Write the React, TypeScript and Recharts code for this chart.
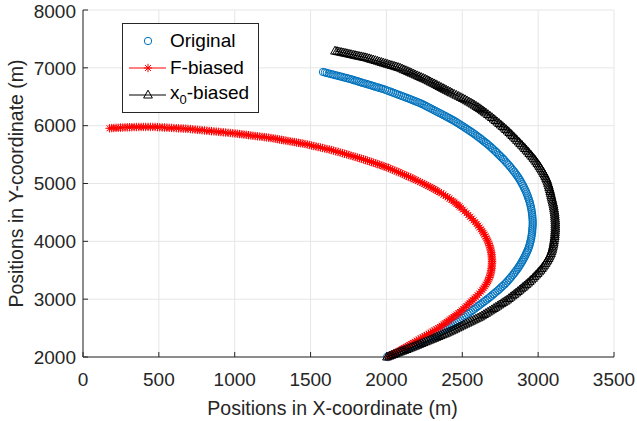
import { ScatterChart, Scatter, XAxis, YAxis, CartesianGrid, Legend } from 'recharts';

const X_TICKS = [0, 500, 1000, 1500, 2000, 2500, 3000, 3500];
const Y_TICKS = [2000, 3000, 4000, 5000, 6000, 7000, 8000];

// trajectories as [x, y] positions in metres
const ORIGINAL: [number, number][] = [
  [2004, 2000], [2017, 2015], [2030, 2030], [2043, 2046], [2056, 2061], [2070, 2076], [2083, 2091], [2096, 2106],
  [2109, 2121], [2123, 2139], [2137, 2156], [2151, 2173], [2165, 2190], [2179, 2208], [2193, 2225], [2207, 2242],
  [2221, 2259], [2235, 2277], [2249, 2294], [2263, 2311], [2277, 2328], [2291, 2346], [2305, 2363], [2319, 2381],
  [2333, 2398], [2345, 2417], [2357, 2436], [2369, 2455], [2381, 2474], [2393, 2493], [2404, 2512], [2416, 2531],
  [2428, 2550], [2440, 2569], [2452, 2588], [2464, 2611], [2476, 2633], [2488, 2656], [2500, 2678], [2512, 2701],
  [2523, 2723], [2535, 2746], [2547, 2768], [2559, 2791], [2571, 2813], [2582, 2836], [2593, 2858], [2605, 2881],
  [2616, 2903], [2627, 2925], [2638, 2947], [2650, 2970], [2661, 2992], [2672, 3015], [2683, 3037], [2694, 3061],
  [2705, 3085], [2716, 3110], [2727, 3134], [2738, 3158], [2748, 3182], [2758, 3207], [2768, 3231], [2778, 3255],
  [2787, 3279], [2797, 3307], [2806, 3334], [2815, 3362], [2824, 3390], [2833, 3418], [2841, 3445], [2849, 3473],
  [2857, 3501], [2865, 3529], [2872, 3556], [2879, 3586], [2886, 3615], [2893, 3645], [2899, 3674], [2905, 3703],
  [2911, 3732], [2917, 3762], [2922, 3791], [2927, 3821], [2932, 3850], [2937, 3883], [2941, 3916], [2945, 3950],
  [2948, 3983], [2951, 4016], [2954, 4049], [2956, 4082], [2958, 4115], [2960, 4149], [2961, 4182], [2962, 4215],
  [2963, 4248], [2964, 4283], [2964, 4317], [2964, 4352], [2963, 4386], [2962, 4421], [2961, 4455], [2959, 4490],
  [2957, 4525], [2955, 4560], [2952, 4594], [2949, 4629], [2946, 4663], [2942, 4696], [2938, 4729], [2934, 4762],
  [2929, 4795], [2924, 4829], [2919, 4862], [2913, 4895], [2907, 4928], [2901, 4961], [2894, 4994], [2887, 5027],
  [2880, 5060], [2873, 5089], [2866, 5118], [2858, 5147], [2850, 5175], [2842, 5204], [2833, 5233], [2824, 5262],
  [2815, 5291], [2806, 5320], [2796, 5348], [2786, 5377], [2776, 5406], [2768, 5429], [2759, 5452], [2750, 5475],
  [2741, 5498], [2732, 5522], [2723, 5545], [2714, 5568], [2704, 5591], [2695, 5614], [2685, 5637], [2675, 5660],
  [2665, 5683], [2655, 5704], [2645, 5724], [2635, 5745], [2625, 5766], [2615, 5787], [2604, 5807], [2594, 5828],
  [2583, 5849], [2572, 5870], [2561, 5890], [2550, 5909], [2539, 5928], [2528, 5947], [2517, 5966], [2506, 5986],
  [2494, 6005], [2483, 6024], [2471, 6043], [2460, 6062], [2448, 6081], [2437, 6098], [2425, 6114], [2414, 6130],
  [2402, 6146], [2391, 6163], [2379, 6179], [2367, 6196], [2355, 6212], [2343, 6228], [2331, 6244], [2319, 6261],
  [2307, 6277], [2295, 6294], [2283, 6310], [2271, 6326], [2259, 6342], [2247, 6359], [2235, 6375], [2223, 6388],
  [2211, 6401], [2199, 6414], [2186, 6427], [2174, 6440], [2161, 6453], [2149, 6466], [2136, 6479], [2123, 6492],
  [2110, 6505], [2097, 6518], [2084, 6530], [2071, 6543], [2058, 6556], [2045, 6569], [2032, 6582], [2019, 6595],
  [2005, 6608], [1992, 6621], [1978, 6634], [1966, 6644], [1953, 6653], [1941, 6663], [1929, 6672], [1917, 6682],
  [1905, 6692], [1893, 6702], [1881, 6711], [1869, 6721], [1856, 6730], [1844, 6740], [1832, 6749], [1820, 6759],
  [1808, 6769], [1796, 6779], [1784, 6788], [1772, 6798], [1760, 6807], [1748, 6816], [1735, 6824], [1722, 6833],
  [1709, 6842], [1697, 6851], [1684, 6859], [1671, 6868], [1658, 6876], [1646, 6885], [1633, 6893], [1620, 6902],
  [1607, 6911], [1595, 6920], [1582, 6928],
];

const F_BIASED: [number, number][] = [
  [2010, 2000], [2022, 2018], [2034, 2035], [2046, 2052], [2057, 2069], [2069, 2087], [2081, 2104], [2093, 2121],
  [2104, 2138], [2116, 2156], [2128, 2173], [2140, 2190], [2151, 2207], [2163, 2225], [2175, 2242], [2188, 2262],
  [2200, 2282], [2213, 2302], [2226, 2321], [2239, 2341], [2251, 2361], [2264, 2381], [2277, 2400], [2290, 2420],
  [2302, 2440], [2315, 2460], [2328, 2479], [2341, 2499], [2353, 2519], [2364, 2541], [2375, 2562], [2386, 2584],
  [2397, 2605], [2408, 2627], [2419, 2649], [2430, 2671], [2441, 2692], [2452, 2714], [2463, 2735], [2474, 2757],
  [2485, 2778], [2496, 2804], [2506, 2830], [2517, 2856], [2527, 2882], [2538, 2908], [2548, 2934], [2558, 2960],
  [2568, 2986], [2579, 3012], [2589, 3038], [2601, 3069], [2612, 3099], [2622, 3130], [2632, 3160], [2641, 3191],
  [2649, 3222], [2656, 3253], [2663, 3283], [2669, 3314], [2674, 3344], [2679, 3375], [2683, 3405], [2686, 3436],
  [2689, 3467], [2691, 3498], [2693, 3528], [2694, 3559], [2695, 3589], [2696, 3620], [2696, 3650], [2696, 3681],
  [2695, 3712], [2694, 3743], [2693, 3774], [2691, 3805], [2689, 3836], [2686, 3867], [2683, 3898], [2679, 3929],
  [2675, 3960], [2670, 3991], [2665, 4022], [2659, 4053], [2653, 4084], [2646, 4115], [2639, 4146], [2631, 4177],
  [2623, 4208], [2614, 4239], [2605, 4270], [2595, 4301], [2585, 4332], [2574, 4363], [2563, 4394], [2552, 4425],
  [2540, 4456], [2528, 4487], [2516, 4518], [2504, 4549], [2491, 4580], [2482, 4603], [2472, 4626], [2462, 4649],
  [2451, 4671], [2440, 4694], [2428, 4717], [2416, 4740], [2403, 4762], [2390, 4785], [2376, 4808], [2362, 4831],
  [2347, 4853], [2336, 4871], [2324, 4888], [2312, 4905], [2300, 4922], [2288, 4940], [2275, 4957], [2262, 4974],
  [2249, 4991], [2236, 5009], [2222, 5026], [2208, 5043], [2194, 5060], [2182, 5075], [2170, 5090], [2158, 5105],
  [2145, 5119], [2133, 5134], [2120, 5149], [2107, 5164], [2094, 5179], [2081, 5194], [2068, 5209], [2055, 5224],
  [2041, 5238], [2028, 5253], [2014, 5268], [2002, 5280], [1990, 5291], [1978, 5303], [1965, 5314], [1953, 5326],
  [1940, 5337], [1927, 5349], [1914, 5360], [1901, 5372], [1888, 5383], [1875, 5395], [1862, 5406], [1849, 5417],
  [1835, 5428], [1822, 5439], [1808, 5449], [1794, 5460], [1780, 5471], [1766, 5482], [1752, 5493], [1738, 5504],
  [1724, 5514], [1710, 5525], [1695, 5536], [1681, 5547], [1666, 5557], [1652, 5568], [1637, 5579], [1623, 5588],
  [1608, 5596], [1594, 5605], [1579, 5614], [1565, 5623], [1550, 5631], [1536, 5640], [1521, 5648], [1507, 5657],
  [1492, 5666], [1478, 5675], [1463, 5683], [1449, 5690], [1435, 5696], [1421, 5703], [1407, 5709], [1393, 5716],
  [1379, 5722], [1365, 5729], [1351, 5735], [1337, 5742], [1323, 5748], [1309, 5755], [1295, 5761], [1281, 5768],
  [1267, 5774], [1253, 5781], [1239, 5787], [1224, 5792], [1209, 5797], [1195, 5802], [1180, 5807], [1165, 5812],
  [1150, 5816], [1135, 5821], [1120, 5826], [1106, 5831], [1091, 5836], [1076, 5841], [1061, 5846], [1047, 5851],
  [1032, 5855], [1017, 5860], [1002, 5865], [987, 5869], [971, 5873], [956, 5877], [940, 5881], [925, 5885],
  [909, 5889], [894, 5893], [878, 5897], [863, 5901], [847, 5905], [832, 5909], [816, 5913], [801, 5917],
  [785, 5921], [770, 5925], [754, 5929], [739, 5933], [723, 5937], [708, 5941], [692, 5945], [677, 5948],
  [661, 5950], [646, 5952], [630, 5954], [615, 5957], [599, 5959], [584, 5961], [568, 5963], [553, 5966],
  [537, 5968], [522, 5970], [506, 5972], [491, 5975], [475, 5977], [460, 5978], [444, 5978], [429, 5978],
  [413, 5978], [398, 5978], [383, 5977], [368, 5977], [352, 5976], [337, 5975], [322, 5974], [307, 5973],
  [292, 5971], [277, 5970], [262, 5968], [247, 5966], [232, 5964], [218, 5962], [203, 5960], [189, 5958],
  [175, 5955],
];

const X0_BIASED: [number, number][] = [
  [2004, 2000], [2019, 2015], [2033, 2029], [2047, 2044], [2061, 2058], [2076, 2073], [2090, 2087], [2104, 2101],
  [2118, 2115], [2133, 2130], [2147, 2144], [2161, 2159], [2175, 2173], [2189, 2188], [2203, 2203], [2217, 2219],
  [2231, 2234], [2245, 2249], [2259, 2264], [2273, 2279], [2287, 2294], [2301, 2309], [2315, 2324], [2329, 2340],
  [2343, 2355], [2357, 2370], [2371, 2385], [2385, 2400], [2399, 2415], [2413, 2433], [2427, 2450], [2441, 2467],
  [2454, 2484], [2468, 2502], [2481, 2519], [2495, 2537], [2508, 2554], [2522, 2571], [2536, 2588], [2550, 2606],
  [2563, 2623], [2577, 2641], [2590, 2658], [2604, 2675], [2617, 2692], [2630, 2713], [2643, 2734], [2656, 2755],
  [2669, 2776], [2682, 2797], [2695, 2818], [2708, 2839], [2720, 2860], [2733, 2881], [2745, 2902], [2758, 2923],
  [2770, 2944], [2783, 2965], [2795, 2986], [2807, 3011], [2819, 3035], [2831, 3060], [2843, 3084], [2855, 3108],
  [2866, 3132], [2878, 3157], [2889, 3181], [2900, 3206], [2911, 3230], [2922, 3255], [2933, 3279], [2944, 3307],
  [2955, 3334], [2966, 3362], [2976, 3390], [2986, 3418], [2996, 3445], [3006, 3473], [3015, 3501], [3024, 3529],
  [3032, 3556], [3040, 3586], [3048, 3615], [3055, 3645], [3062, 3674], [3068, 3703], [3074, 3732], [3079, 3762],
  [3084, 3791], [3088, 3821], [3092, 3850], [3095, 3883], [3098, 3916], [3101, 3950], [3103, 3983], [3105, 4016],
  [3107, 4049], [3109, 4082], [3110, 4115], [3111, 4149], [3112, 4182], [3113, 4215], [3113, 4248], [3113, 4283],
  [3113, 4317], [3113, 4352], [3112, 4386], [3111, 4421], [3110, 4456], [3109, 4491], [3107, 4525], [3105, 4560],
  [3103, 4594], [3101, 4629], [3098, 4663], [3095, 4696], [3092, 4729], [3089, 4762], [3086, 4795], [3083, 4829],
  [3080, 4862], [3077, 4895], [3073, 4928], [3070, 4961], [3066, 4994], [3062, 5027], [3058, 5060], [3053, 5089],
  [3048, 5118], [3043, 5147], [3037, 5175], [3031, 5204], [3024, 5233], [3017, 5262], [3010, 5291], [3003, 5320],
  [2995, 5348], [2987, 5377], [2979, 5406], [2970, 5435], [2961, 5463], [2952, 5492], [2942, 5520], [2933, 5549],
  [2923, 5577], [2913, 5605], [2903, 5633], [2893, 5662], [2882, 5690], [2872, 5719], [2861, 5747], [2851, 5776],
  [2840, 5804], [2830, 5830], [2820, 5856], [2810, 5882], [2799, 5908], [2788, 5934], [2777, 5960], [2766, 5986],
  [2754, 6012], [2743, 6038], [2731, 6063], [2719, 6089], [2707, 6115], [2695, 6141], [2682, 6167], [2669, 6193],
  [2656, 6219], [2646, 6238], [2636, 6257], [2626, 6277], [2615, 6296], [2604, 6315], [2593, 6334], [2581, 6354],
  [2569, 6373], [2557, 6392], [2544, 6411], [2531, 6431], [2518, 6450], [2504, 6469], [2490, 6488], [2476, 6508],
  [2461, 6527], [2446, 6546], [2431, 6565], [2420, 6581], [2408, 6597], [2396, 6613], [2384, 6629], [2373, 6645],
  [2361, 6661], [2349, 6678], [2337, 6694], [2326, 6710], [2314, 6726], [2302, 6742], [2290, 6758], [2279, 6774],
  [2267, 6790], [2255, 6805], [2242, 6820], [2229, 6835], [2216, 6849], [2204, 6864], [2191, 6879], [2179, 6894],
  [2166, 6908], [2154, 6923], [2141, 6938], [2128, 6953], [2115, 6967], [2103, 6982], [2090, 6997], [2077, 7008],
  [2063, 7019], [2050, 7030], [2036, 7040], [2022, 7051], [2008, 7062], [1995, 7073], [1981, 7083], [1968, 7094],
  [1954, 7105], [1941, 7116], [1927, 7127], [1913, 7138], [1899, 7148], [1886, 7159], [1872, 7170], [1859, 7178],
  [1846, 7185], [1833, 7193], [1819, 7200], [1806, 7208], [1793, 7215], [1780, 7223], [1766, 7231], [1753, 7239],
  [1740, 7246], [1727, 7254], [1714, 7261], [1701, 7269], [1687, 7276], [1674, 7284], [1661, 7291],
];

const BLUE = '#0072BD';
const RED = '#FF0000';
const INK = '#262626';
const FONT = '"Liberation Sans", Arial, Helvetica, sans-serif';

const toPoints = (arr: [number, number][]) => arr.map(([x, y]) => ({ x, y }));

const CircleMark = ({ cx, cy }: any) => (
  <circle cx={cx} cy={cy} r={3.7} fill="none" stroke={BLUE} strokeWidth={1} />
);

const StarMark = ({ cx, cy }: any) => {
  const s = 4.2;
  const d = 3;
  return (
    <path
      d={`M${cx - s},${cy}H${cx + s}M${cx},${cy - s}V${cy + s}M${cx - d},${cy - d}L${cx + d},${cy + d}M${cx - d},${cy + d}L${cx + d},${cy - d}`}
      stroke={RED}
      strokeWidth={1}
      fill="none"
    />
  );
};

const TriMark = ({ cx, cy }: any) => (
  <path
    d={`M${cx},${cy - 4.8}L${cx + 4.4},${cy + 3}L${cx - 4.4},${cy + 3}Z`}
    stroke="#000"
    strokeWidth={1}
    fill="none"
  />
);

const LEGEND_ROWS = [
  { label: 'Original', kind: 'o' },
  { label: 'F-biased', kind: '*' },
  { label: 'x0-biased', kind: '^' },
];

function LegendBox() {
  return (
    <div
      style={{
        border: `1px solid ${INK}`,
        background: '#fff',
        width: 135,
        padding: '3px 0 4px 0',
        fontFamily: FONT,
        fontSize: 19,
        color: '#000',
      }}
    >
      {LEGEND_ROWS.map((r) => (
        <div key={r.label} style={{ display: 'flex', alignItems: 'center', height: 27 }}>
          <svg width={46} height={14} style={{ flex: 'none' }}>
            {r.kind === 'o' && <CircleMark cx={25} cy={7} />}
            {r.kind === '*' && (
              <>
                <line x1={6} x2={43} y1={7} y2={7} stroke={RED} strokeWidth={1} />
                <StarMark cx={25} cy={7} />
              </>
            )}
            {r.kind === '^' && (
              <>
                <line x1={6} x2={43} y1={7} y2={7} stroke="#000" strokeWidth={1} />
                <TriMark cx={25} cy={7} />
              </>
            )}
          </svg>
          <span style={{ marginLeft: 1, whiteSpace: 'nowrap' }}>
            {r.kind === '^' ? (
              <>
                x<sub style={{ fontSize: 13, verticalAlign: -5 }}>0</sub>-biased
              </>
            ) : (
              r.label
            )}
          </span>
        </div>
      ))}
    </div>
  );
}

export default function App() {
  const tickStyle = { fill: INK, fontSize: 19, fontFamily: FONT };
  return (
    <div style={{ position: 'absolute', left: 0, top: 0, width: 637, height: 421, background: '#fff' }}>
      <ScatterChart width={637} height={421} margin={{ top: 10, right: 23, bottom: 0, left: 0 }}>
        <CartesianGrid xAxisId="b" yAxisId="l" stroke="#e6e6e6" strokeWidth={1} />
        <XAxis
          xAxisId="b"
          type="number"
          dataKey="x"
          domain={[0, 3500]}
          ticks={X_TICKS}
          height={64}
          stroke={INK}
          tickSize={-5}
          tickMargin={21}
          tick={tickStyle}
          label={{
            value: 'Positions in X-coordinate (m)',
            position: 'insideBottom',
            offset: 6,
            dx: -16,
            style: { fill: INK, fontSize: 19.5, fontFamily: FONT },
          }}
        />
        <XAxis
          xAxisId="t"
          orientation="top"
          type="number"
          domain={[0, 3500]}
          ticks={X_TICKS}
          height={0}
          stroke={INK}
          tickSize={-5}
          tickFormatter={() => ''}
        />
        <YAxis
          yAxisId="l"
          type="number"
          dataKey="y"
          domain={[2000, 8000]}
          ticks={Y_TICKS}
          width={83}
          stroke={INK}
          tickSize={-5}
          tickMargin={12}
          tick={tickStyle}
          label={{
            value: 'Positions in Y-coordinate (m)',
            angle: -90,
            position: 'insideLeft',
            offset: 16,
            style: { fill: INK, fontSize: 19.5, fontFamily: FONT, textAnchor: 'middle' },
          }}
        />
        <YAxis
          yAxisId="r"
          orientation="right"
          type="number"
          domain={[2000, 8000]}
          ticks={Y_TICKS}
          width={0}
          stroke={INK}
          tickSize={-5}
          tickFormatter={() => ''}
        />
        <Legend
          layout="vertical"
          align="center"
          verticalAlign="middle"
          content={() => <LegendBox />}
          wrapperStyle={{ left: 122, top: 23, width: 137 }}
        />
        <Scatter
          name="Original"
          xAxisId="b"
          yAxisId="l"
          data={toPoints(ORIGINAL)}
          shape={CircleMark}
          isAnimationActive={false}
        />
        <Scatter
          name="F-biased"
          xAxisId="b"
          yAxisId="l"
          data={toPoints(F_BIASED)}
          shape={StarMark}
          line={{ stroke: RED, strokeWidth: 1 }}
          isAnimationActive={false}
        />
        <Scatter
          name="x0-biased"
          xAxisId="b"
          yAxisId="l"
          data={toPoints(X0_BIASED)}
          shape={TriMark}
          line={{ stroke: '#000', strokeWidth: 1 }}
          isAnimationActive={false}
        />
      </ScatterChart>
    </div>
  );
}
